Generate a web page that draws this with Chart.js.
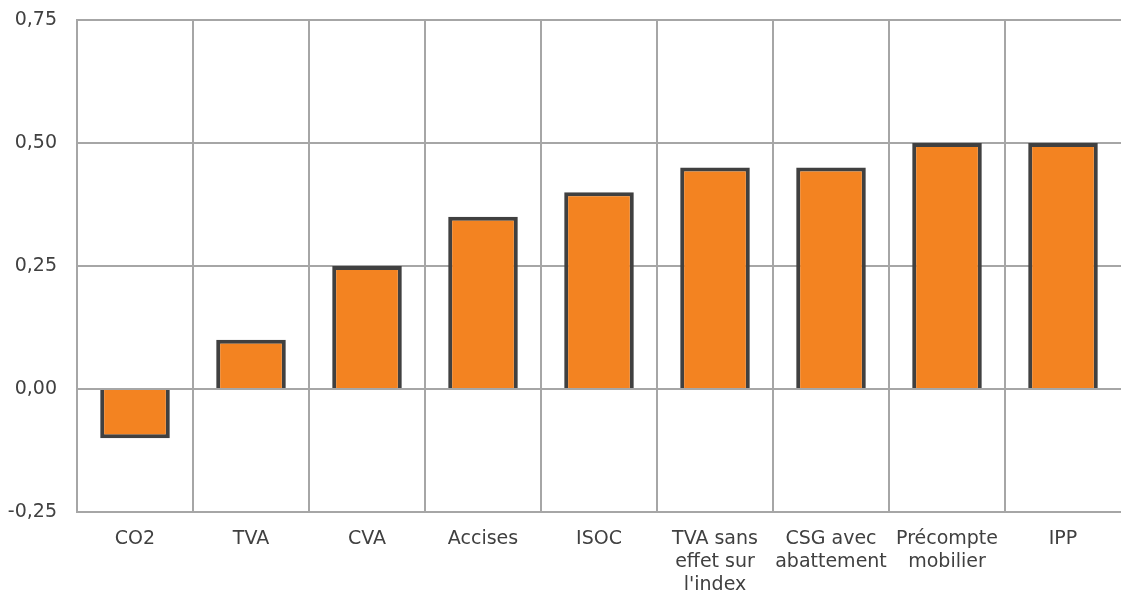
<!DOCTYPE html>
<html>
<head>
<meta charset="utf-8">
<script src="https://cdn.jsdelivr.net/npm/chart.js@4/dist/chart.umd.min.js"></script>
<style>
  html, body { margin: 0; padding: 0; background: #ffffff; }
  #wrap { width: 1121px; height: 596px; position: relative; }
</style>
</head>
<body>
<div id="wrap"><canvas id="c" width="1121" height="596"></canvas></div>
<script>
// Categories (multi-line labels as arrays)
const categories = [
  'CO2',
  'TVA',
  'CVA',
  'Accises',
  'ISOC',
  ['TVA sans', 'effet sur', "l'index"],
  ['CSG avec', 'abattement'],
  ['Précompte', 'mobilier'],
  'IPP'
];

// Effect per tax instrument
const values = [-0.10, 0.10, 0.25, 0.35, 0.40, 0.45, 0.45, 0.50, 0.50];

// Value axis range and step
const yMin = -0.25;
const yMax = 0.75;
const yStep = 0.25;

const gridColor = '#a6a6a6';
const textColor = '#404040';

new Chart(document.getElementById('c'), {
  type: 'bar',
  data: {
    labels: categories,
    datasets: [{
      data: values,
      backgroundColor: '#f38321',
      borderColor: '#404040',
      borderWidth: 4,
      borderSkipped: 'start',
      barPercentage: 0.6,
      categoryPercentage: 1.0
    }]
  },
  options: {
    responsive: false,
    animation: false,
    layout: { padding: 0 },
    plugins: {
      legend: { display: false },
      tooltip: { enabled: false }
    },
    scales: {
      x: {
        offset: true,
        grid: {
          offset: true,
          // no closing line on the right edge
          color: (ctx) => (ctx.tick ? gridColor : 'rgba(0,0,0,0)'),
          lineWidth: 2,
          drawTicks: false
        },
        border: { color: gridColor, width: 2 },
        ticks: {
          color: textColor,
          font: { family: 'DejaVu Sans', size: 19, lineHeight: 1.2 },
          padding: 16,
          maxRotation: 0,
          autoSkip: false
        },
        afterFit: (scale) => { scale.height = 84; }
      },
      y: {
        min: yMin,
        max: yMax,
        grid: {
          color: gridColor,
          lineWidth: 2,
          drawTicks: false
        },
        border: { color: gridColor, width: 2 },
        ticks: {
          stepSize: yStep,
          color: textColor,
          font: { family: 'DejaVu Sans', size: 19 },
          padding: 20,
          callback: (v) => v.toFixed(2).replace('.', ',')
        },
        afterFit: (scale) => {
          scale.width = 77;
          scale.paddingTop = 20;
          scale.paddingBottom = 0;
        }
      }
    }
  }
});
</script>
</body>
</html>
